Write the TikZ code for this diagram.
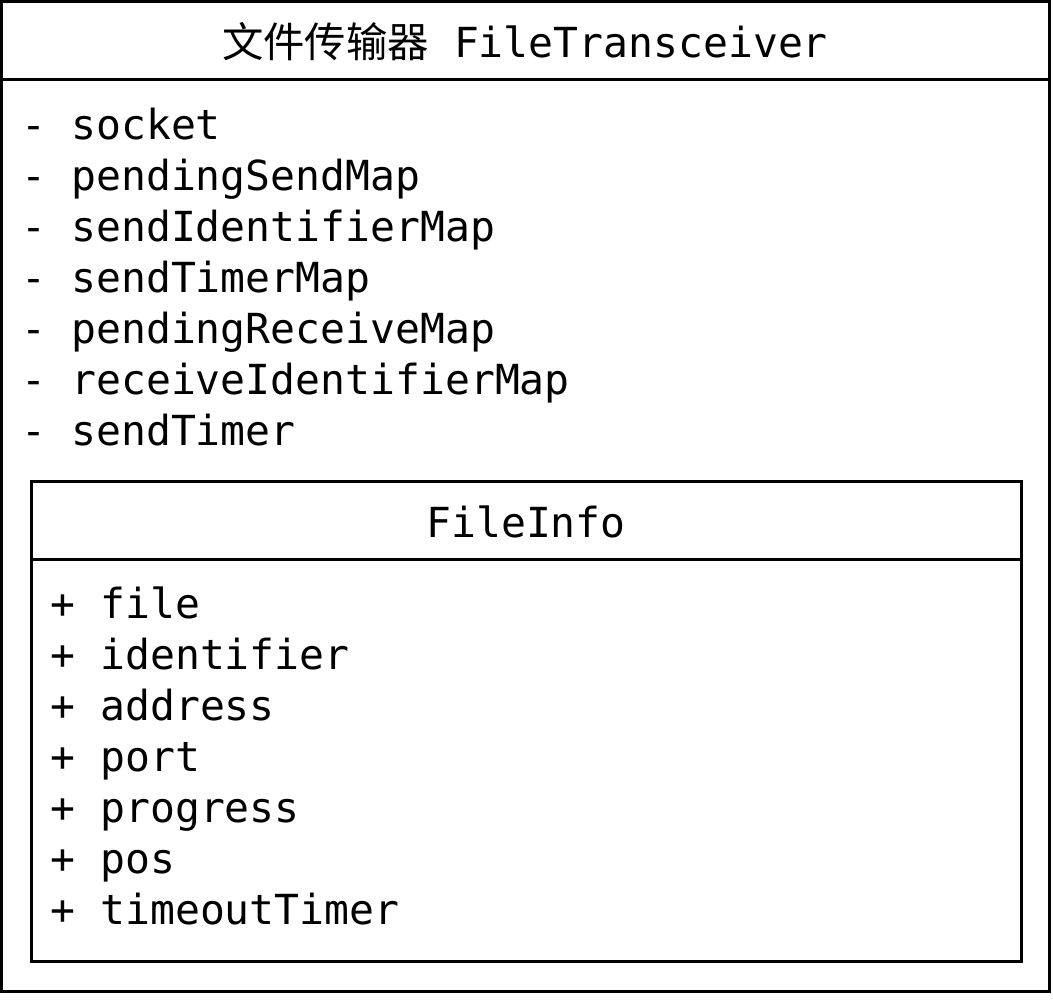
\documentclass[tikz,border=0pt]{standalone}
\usepackage{fontspec}
\setmonofont{DejaVu Sans Mono}
\newfontfamily\cjk{Noto Sans CJK SC}
\usetikzlibrary{positioning}

\begin{document}
\begin{tikzpicture}[x=0.5pt,y=-0.5pt,line width=1.5pt,
  member/.style={anchor=base west,inner sep=0pt,font=\ttfamily\fontsize{20.7}{25}\selectfont},
  header/.style={anchor=base,inner sep=0pt,font=\ttfamily\fontsize{20.7}{25}\selectfont}]
  \useasboundingbox (0,0) rectangle (1053,1002);
  % outer class
  \draw (1.5,1.5) rectangle (1049.5,991);
  \draw (1.5,79) -- (1049.5,79);
  \node[header] (title) at (525,57) {{\cjk 文件传输器} FileTransceiver};
  \foreach \name [count=\i from 0] in {socket,pendingSendMap,sendIdentifierMap,sendTimerMap,pendingReceiveMap,receiveIdentifierMap,sendTimer}
    \node[member] (attr\i) at (20,139+51*\i) {- \name};
  % nested class
  \draw (31.5,481.5) rectangle (1021.5,961.5);
  \draw (31.5,559.5) -- (1021.5,559.5);
  \node[header] (info) at (526,537) {FileInfo};
  \foreach \name [count=\i from 0] in {file,identifier,address,port,progress,pos,timeoutTimer}
    \node[member] (field\i) at (49,618+51*\i) {+ \name};
\end{tikzpicture}
\end{document}
